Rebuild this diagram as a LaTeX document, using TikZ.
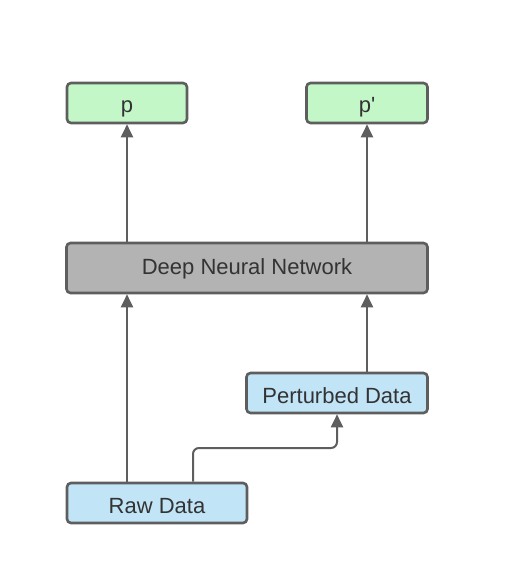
\documentclass[tikz,border=0pt]{standalone}
\usepackage{fontspec}
\setmainfont{Liberation Sans}[Ligatures=TeXOff]
\usetikzlibrary{arrows.meta}
\definecolor{bordc}{HTML}{5E5E5E}
\definecolor{greenf}{HTML}{C3F7C8}
\definecolor{bluef}{HTML}{C1E4F7}
\definecolor{grayf}{HTML}{B3B3B3}
\definecolor{txt}{HTML}{333333}
\begin{document}
\begin{tikzpicture}[x=1pt,y=-1pt,
  box/.style={draw=bordc,line width=2.6pt,rounded corners=4pt,inner sep=0pt,text=txt,
    font=\fontsize{22}{26}\selectfont,text height=20pt,text depth=0pt,minimum height=40pt},
  conn/.style={draw=bordc,line width=2pt,-{Triangle[length=13pt,width=12pt]}}]
\useasboundingbox[fill=white] (0,0) rectangle (505,585);
\node[box,fill=greenf,minimum width=120pt] (p) at (127,103) {p};
\node[box,fill=greenf,minimum width=121pt] (pp) at (367,103) {p'};
\node[box,fill=grayf,minimum width=361pt,minimum height=50pt,text height=14pt,text depth=1.4pt] (dnn) at (247,268) {Deep Neural Network};
\node[box,fill=bluef,minimum width=181pt] (pd) at (337,393) {Perturbed Data};
\node[box,fill=bluef,minimum width=180pt] (raw) at (157,503) {Raw Data};
\draw[conn] (dnn.north -| p) -- (p);
\draw[conn] (dnn.north -| pp) -- (pp);
\draw[conn] (raw.north -| p) -- (dnn.south -| p);
\draw[conn] (pd.north -| pp) -- (dnn.south -| pp);
\coordinate (rs) at (193,483);
\draw[conn,rounded corners=6pt] (raw.north -| rs) |- (pd.south |- 0,448) -- (pd.south);
\end{tikzpicture}
\end{document}
